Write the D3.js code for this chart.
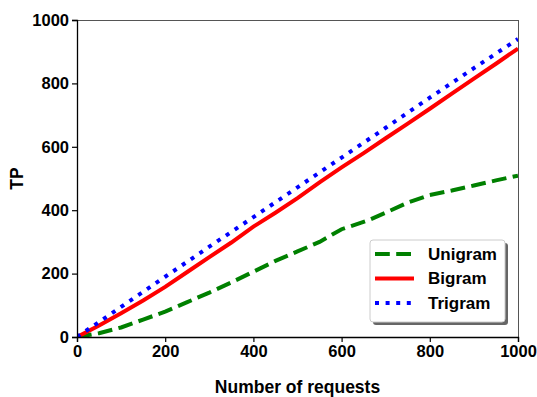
<!DOCTYPE html>
<html>
<head>
<meta charset="utf-8">
<script src="https://cdn.jsdelivr.net/npm/d3@7"></script>
<style>
  body { margin: 0; background: #fff; }
  svg { display: block; font-family: "Liberation Sans", Arial, sans-serif; }
</style>
</head>
<body>
<svg id="chart" width="537" height="397"></svg>
<script>
// ---- data ----
const unigramX = [0, 50, 100, 150, 200, 250, 300, 350, 400, 450, 500, 550, 600, 660, 700, 750, 800, 850, 900, 950, 1000];
const unigramY = [0, 12, 30, 55, 80, 110, 140, 172, 206, 240, 270, 300, 340, 368, 392, 424, 448, 462, 478, 494, 509];
const bigramX = [0, 50, 100, 150, 200, 250, 300, 350, 400, 450, 500, 550, 600, 650, 700, 750, 800, 850, 900, 950, 1000];
const bigramY = [0, 36, 75, 115, 158, 205, 252, 298, 348, 392, 438, 488, 535, 580, 627, 673, 720, 768, 815, 862, 910];
const trigramX = [0, 100, 200, 300, 400, 500, 600, 700, 800, 900, 1000];
const trigramY = [0, 95, 190, 285, 378, 472, 566, 660, 755, 848, 940];
const seriesNames = ["Unigram", "Bigram", "Trigram"];
const xTicks = [0, 200, 400, 600, 800, 1000];
const yTicks = [0, 200, 400, 600, 800, 1000];
const xLabel = "Number of requests";
const yLabel = "TP";

// ---- layout ----
const W = 537, H = 397;
const m = { left: 77, right: 19, top: 20, bottom: 60 };
const svg = d3.select("#chart");
const x = d3.scaleLinear().domain([0, 1000]).range([m.left, W - m.right]);
const y = d3.scaleLinear().domain([0, 1000]).range([H - m.bottom, m.top]);

const styles = [
  { color: "#008000", dash: "14.8,6.4" },
  { color: "#ff0000", dash: null },
  { color: "#0000ff", dash: "4,6.6" }
];
const data = [
  unigramX.map((d, i) => [d, unigramY[i]]),
  bigramX.map((d, i) => [d, bigramY[i]]),
  trigramX.map((d, i) => [d, trigramY[i]])
];

// clip
svg.append("clipPath").attr("id", "clip").append("rect")
  .attr("x", m.left).attr("y", m.top)
  .attr("width", W - m.left - m.right).attr("height", H - m.top - m.bottom);

const line = d3.line().x(d => x(d[0])).y(d => y(d[1]));
data.forEach((d, i) => {
  svg.append("path").datum(d)
    .attr("clip-path", "url(#clip)")
    .attr("fill", "none")
    .attr("stroke", styles[i].color)
    .attr("stroke-width", 4)
    .attr("stroke-dasharray", styles[i].dash)
    .attr("d", line);
});

// spines
svg.append("line").attr("x1", m.left).attr("x2", W - m.right).attr("y1", m.top + 0.5).attr("y2", m.top + 0.5)
  .attr("stroke", "#555").attr("stroke-width", 1);
svg.append("line").attr("x1", W - m.right + 0.5).attr("x2", W - m.right + 0.5).attr("y1", m.top).attr("y2", H - m.bottom)
  .attr("stroke", "#555").attr("stroke-width", 1);

// axes
const xAxis = svg.append("g").attr("transform", `translate(0,${H - m.bottom})`)
  .call(d3.axisBottom(x).tickValues(xTicks).tickFormat(d3.format("d")).tickSize(5).tickPadding(3));
const yAxis = svg.append("g").attr("transform", `translate(${m.left},0)`)
  .call(d3.axisLeft(y).tickValues(yTicks).tickFormat(d3.format("d")).tickSize(5).tickPadding(3));
[xAxis, yAxis].forEach(g => {
  g.select(".domain").attr("stroke", "#000").attr("stroke-width", 1.3);
  g.selectAll(".tick line").attr("stroke", "#000").attr("stroke-width", 1.2);
  g.selectAll(".tick text").attr("fill", "#000")
    .style("font-size", "16.5px").style("font-weight", "bold")
    .style("font-family", "'Liberation Sans', Arial, sans-serif");
});

// axis labels
svg.append("text").attr("x", (m.left + W - m.right) / 2).attr("y", 393)
  .attr("text-anchor", "middle").style("font-size", "17.5px").style("font-weight", "bold")
  .text(xLabel);
svg.append("text").attr("transform", `translate(23,${(m.top + H - m.bottom) / 2}) rotate(-90)`)
  .attr("text-anchor", "middle").style("font-size", "17.5px").style("font-weight", "bold")
  .text(yLabel);

// legend
const lg = svg.append("g");
const lx = 370, ly = 240, lw = 135, lh = 82;
lg.append("rect").attr("x", lx + 3).attr("y", ly + 3).attr("width", lw).attr("height", lh)
  .attr("rx", 3).attr("fill", "#555").attr("opacity", 0.9);
lg.append("rect").attr("x", lx).attr("y", ly).attr("width", lw).attr("height", lh)
  .attr("rx", 3).attr("fill", "#fff").attr("stroke", "#ccc").attr("stroke-width", 1);
seriesNames.forEach((name, i) => {
  const cy = 254 + i * 24.5;
  lg.append("line").attr("x1", 375).attr("x2", 414).attr("y1", cy).attr("y2", cy)
    .attr("stroke", styles[i].color).attr("stroke-width", 4)
    .attr("stroke-dasharray", styles[i].dash);
  lg.append("text").attr("x", 428).attr("y", cy).attr("dy", "0.35em")
    .style("font-size", "17px").style("font-weight", "bold").text(name);
});
</script>
</body>
</html>
